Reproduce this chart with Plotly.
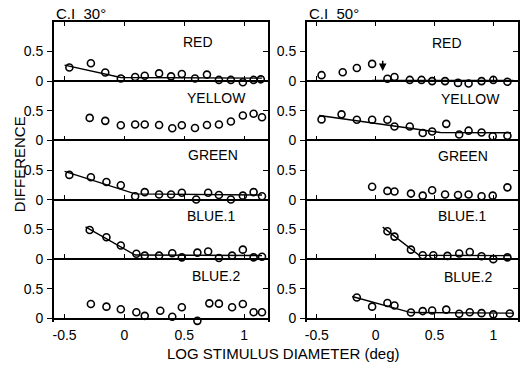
import plotly.graph_objects as go

W, H = 523, 368

# ---------------- data ----------------
panel_names = ["RED", "YELLOW", "GREEN", "BLUE.1", "BLUE.2"]
col_titles = ["C.I  30°", "C.I  50°"]
x_tick_vals = [-0.5, 0, 0.5, 1]
x_tick_text = ["-0.5", "0", "0.5", "1"]
y_tick_vals = [0, 0.5]
y_tick_text = ["0", "0.5"]

# C.I 30 deg
red30_x = [-0.46, -0.28, -0.16, -0.03, 0.09, 0.17, 0.29, 0.39, 0.48, 0.59, 0.69, 0.79, 0.89, 0.99, 1.08, 1.14]
red30_y = [0.23, 0.30, 0.145, 0.045, 0.07, 0.09, 0.13, 0.08, 0.12, 0.045, 0.11, 0.02, 0.02, -0.02, 0.02, 0.03]
red30_fit_x = [-0.50, -0.03, 1.15]
red30_fit_y = [0.27, 0.06, 0.05]

yel30_x = [-0.29, -0.16, -0.03, 0.09, 0.17, 0.29, 0.40, 0.48, 0.59, 0.69, 0.79, 0.89, 0.99, 1.08, 1.15]
yel30_y = [0.38, 0.33, 0.255, 0.27, 0.27, 0.26, 0.205, 0.255, 0.21, 0.26, 0.27, 0.32, 0.42, 0.45, 0.39]

grn30_x = [-0.46, -0.28, -0.15, -0.03, 0.09, 0.17, 0.29, 0.39, 0.48, 0.60, 0.70, 0.79, 0.89, 0.99, 1.08, 1.15]
grn30_y = [0.42, 0.38, 0.30, 0.245, 0.06, 0.13, 0.09, 0.09, 0.12, 0.005, 0.12, 0.08, 0.005, 0.07, 0.13, 0.06]
grn30_fit_x = [-0.50, 0.09, 1.15]
grn30_fit_y = [0.48, 0.10, 0.08]

b130_x = [-0.29, -0.15, -0.03, 0.10, 0.17, 0.29, 0.40, 0.48, 0.61, 0.70, 0.79, 0.90, 0.99, 1.08, 1.15]
b130_y = [0.49, 0.37, 0.23, 0.09, 0.06, 0.06, 0.10, 0.03, 0.11, 0.13, 0.02, 0.06, 0.16, 0.03, 0.04]
b130_fit_x = [-0.325, 0.09, 1.15]
b130_fit_y = [0.545, 0.07, 0.06]

b230_x = [-0.28, -0.15, -0.03, 0.10, 0.17, 0.30, 0.40, 0.48, 0.61, 0.71, 0.79, 0.90, 0.99, 1.08, 1.15]
b230_y = [0.245, 0.20, 0.155, 0.105, 0.045, 0.13, 0.03, 0.19, -0.04, 0.255, 0.25, 0.19, 0.245, 0.105, 0.105]

# C.I 50 deg
red50_x = [-0.46, -0.28, -0.16, -0.03, 0.10, 0.16, 0.29, 0.39, 0.48, 0.59, 0.70, 0.79, 0.90, 1.00, 1.12]
red50_y = [0.10, 0.15, 0.22, 0.29, 0.04, 0.07, 0.02, 0.02, 0.0, 0.0, -0.03, -0.04, 0.0, 0.02, -0.01]
red50_fit_x = [-0.03, 1.17]
red50_fit_y = [0.01, 0.01]
red50_arrow_x = 0.06
red50_arrow_y = [0.37, 0.17]

yel50_x = [-0.46, -0.29, -0.16, -0.03, 0.10, 0.16, 0.29, 0.40, 0.48, 0.60, 0.71, 0.79, 0.90, 0.995, 1.12]
yel50_y = [0.355, 0.44, 0.35, 0.35, 0.35, 0.235, 0.235, 0.125, 0.15, 0.28, 0.10, 0.165, 0.135, 0.07, 0.08]
yel50_fit_x = [-0.48, 0.55, 1.15]
yel50_fit_y = [0.42, 0.135, 0.13]

grn50_x = [-0.03, 0.10, 0.16, 0.30, 0.40, 0.48, 0.59, 0.70, 0.79, 0.90, 0.995, 1.12]
grn50_y = [0.22, 0.15, 0.14, 0.105, 0.07, 0.16, 0.09, 0.08, 0.09, 0.06, 0.07, 0.21]

b150_x = [0.10, 0.16, 0.30, 0.40, 0.49, 0.61, 0.71, 0.80, 0.90, 1.00, 1.12]
b150_y = [0.47, 0.38, 0.16, 0.065, 0.065, 0.055, 0.095, 0.12, 0.05, 0.0, 0.03]
b150_fit_x = [0.06, 0.37, 1.15]
b150_fit_y = [0.54, 0.065, 0.06]

b250_x = [-0.16, -0.03, 0.10, 0.16, 0.30, 0.40, 0.48, 0.60, 0.71, 0.80, 0.90, 1.00, 1.14]
b250_y = [0.355, 0.20, 0.26, 0.22, 0.10, 0.125, 0.135, 0.15, 0.08, 0.105, 0.09, 0.07, 0.085]
b250_fit_x = [-0.20, 0.30, 1.17]
b250_fit_y = [0.37, 0.10, 0.09]

points = [
    [(red30_x, red30_y), (yel30_x, yel30_y), (grn30_x, grn30_y), (b130_x, b130_y), (b230_x, b230_y)],
    [(red50_x, red50_y), (yel50_x, yel50_y), (grn50_x, grn50_y), (b150_x, b150_y), (b250_x, b250_y)],
]
fits = [
    [(red30_fit_x, red30_fit_y), None, (grn30_fit_x, grn30_fit_y), (b130_fit_x, b130_fit_y), None],
    [(red50_fit_x, red50_fit_y), (yel50_fit_x, yel50_fit_y), None, (b150_fit_x, b150_fit_y), (b250_fit_x, b250_fit_y)],
]

# ---------------- layout geometry (pixels) ----------------
col_px = [(52, 267), (306, 518)]
x_ranges = [[-0.59, 1.2], [-0.585, 1.21]]
row_top0 = 22
row_h = 60          # pixels per unit of DIFFERENCE (0 .. 1)
y_lo = -0.06        # a little room below zero so points under zero stay visible
label_pos = [
    [(197, 42), (215, 99), (212, 157), (210, 218), (215, 279)],
    [(447, 43), (470, 100), (463, 158), (462, 218), (468, 280)],
]

FONT = "Liberation Sans, Arial, sans-serif"
fig = go.Figure()
layout = dict(
    width=W, height=H, margin=dict(l=0, r=0, t=0, b=0),
    paper_bgcolor="white", plot_bgcolor="rgba(0,0,0,0)", showlegend=False,
    font=dict(family=FONT, size=14, color="black"),
)
annotations = []

n = 0
for c in range(2):
    for r in range(5):
        n += 1
        xa = "x" if n == 1 else f"x{n}"
        ya = "y" if n == 1 else f"y{n}"
        top = row_top0 + r * row_h
        zero = top + row_h
        bot = zero - y_lo * row_h
        xdom = [col_px[c][0] / W, col_px[c][1] / W]
        ydom = [1 - bot / H, 1 - top / H]
        layout[f"xaxis{n if n > 1 else ''}"] = dict(
            domain=xdom, range=x_ranges[c], anchor="free", position=1 - zero / H,
            showgrid=False, zeroline=False, showline=True, linecolor="black", linewidth=1.6,
            ticks="inside", ticklen=4, tickwidth=1.3, tickcolor="black",
            tickvals=x_tick_vals, ticktext=x_tick_text, layer="below traces",
            showticklabels=(r == 4), ticklabelstandoff=4, tickfont=dict(size=14, family=FONT),
        )
        layout[f"yaxis{n if n > 1 else ''}"] = dict(
            domain=ydom, range=[y_lo, 1.0], anchor=xa,
            showgrid=False, zeroline=False, showline=True, linecolor="black", linewidth=1.5,
            mirror=True, ticks="outside", ticklen=5, tickwidth=1.3, tickcolor="black",
            tickvals=y_tick_vals, ticktext=y_tick_text, ticklabelstandoff=1,
            layer="below traces", tickfont=dict(size=14, family=FONT),
        )
        # right-side inside ticks
        m = n + 10
        layout[f"yaxis{m}"] = dict(
            range=[y_lo, 1.0], overlaying=ya, side="right", anchor=xa,
            showgrid=False, zeroline=False, showline=False,
            ticks="inside", ticklen=5, tickwidth=1.3, tickcolor="black",
            tickvals=[0.5], showticklabels=False,
        )
        fig.add_trace(go.Scatter(x=[None], y=[None], xaxis=xa, yaxis=f"y{m}",
                                 mode="markers", hoverinfo="skip"))
        # top border of the uppermost panels
        if r == 0:
            k = n + 20
            layout[f"xaxis{k}"] = dict(
                domain=xdom, range=x_ranges[c], overlaying=xa, side="top", anchor=ya,
                showgrid=False, zeroline=False, showline=True, linecolor="black", linewidth=1.6,
                ticks="inside", ticklen=4, tickwidth=1.3, tickcolor="black",
                tickvals=x_tick_vals, showticklabels=False,
            )
            fig.add_trace(go.Scatter(x=[None], y=[None], xaxis=f"x{k}", yaxis=ya,
                                     mode="markers", hoverinfo="skip"))

        px, py = points[c][r]
        fig.add_trace(go.Scatter(
            x=px, y=py, xaxis=xa, yaxis=ya, mode="markers", cliponaxis=False,
            marker=dict(symbol="circle-open", size=7, color="black", line=dict(width=1.6, color="black")),
        ))
        if fits[c][r] is not None:
            fx, fy = fits[c][r]
            fig.add_trace(go.Scatter(
                x=fx, y=fy, xaxis=xa, yaxis=ya, mode="lines", cliponaxis=False,
                line=dict(color="black", width=1.4),
            ))
        lx, ly = label_pos[c][r]
        annotations.append(dict(
            x=lx / W, y=1 - ly / H, xref="paper", yref="paper", text=panel_names[r],
            showarrow=False, xanchor="center", yanchor="middle",
            font=dict(size=14, family=FONT, color="black"),
        ))

# arrow in C.I 50 RED panel
annotations.append(dict(
    x=red50_arrow_x, y=red50_arrow_y[1], ax=red50_arrow_x, ay=red50_arrow_y[0],
    xref="x6", yref="y6", axref="x6", ayref="y6", text="",
    showarrow=True, arrowhead=2, arrowsize=1, arrowwidth=1.5, arrowcolor="black",
))

# column titles
for c in range(2):
    annotations.append(dict(
        x=col_px[c][0] / W, y=1 - 14 / H, xref="paper", yref="paper", text=col_titles[c],
        showarrow=False, xanchor="left", yanchor="middle",
        font=dict(size=15, family=FONT, color="black"),
    ))

annotations.append(dict(
    x=17 / W, y=1 - 166 / H, xref="paper", yref="paper", text="DIFFERENCE", textangle=-90,
    showarrow=False, xanchor="center", yanchor="middle",
    font=dict(size=15, family=FONT, color="black"),
))
annotations.append(dict(
    x=283 / W, y=1 - 357 / H, xref="paper", yref="paper", text="LOG STIMULUS DIAMETER (deg)",
    showarrow=False, xanchor="center", yanchor="middle",
    font=dict(size=15, family=FONT, color="black"),
))

layout["annotations"] = annotations
fig.update_layout(**layout)
fig.write_html("out.html")
